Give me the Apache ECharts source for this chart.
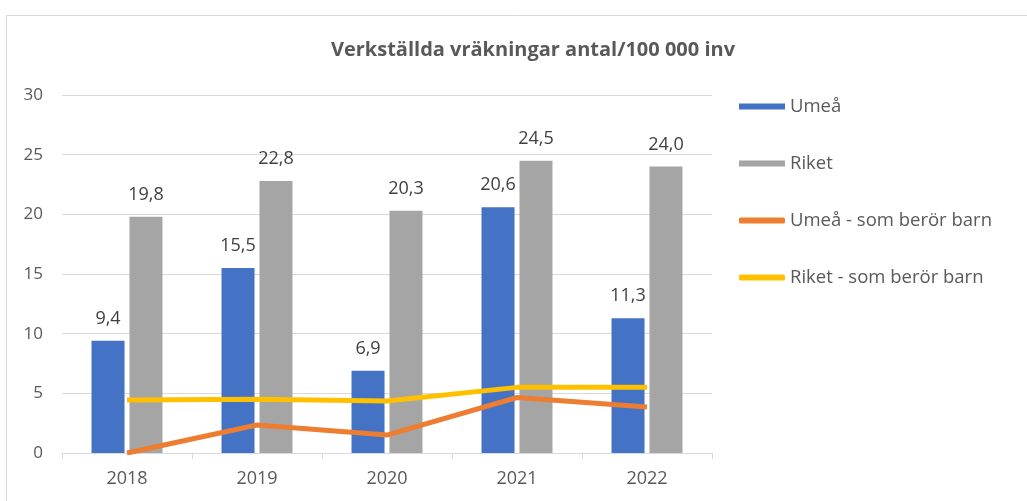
<!DOCTYPE html>
<html>
<head>
<meta charset="utf-8">
<script src="https://cdn.jsdelivr.net/npm/echarts@6/dist/echarts.min.js"></script>
<style>
html,body{margin:0;padding:0;background:#fff;}
#chart{width:1027px;height:501px;}
</style>
</head>
<body>
<div id="chart"></div>
<script>
// Evictions per 100 000 inhabitants, Umeå vs whole country
const years = ['2018', '2019', '2020', '2021', '2022'];
const umea = [9.4, 15.5, 6.9, 20.6, 11.3];
const riket = [19.8, 22.8, 20.3, 24.5, 24.0];
const umeaBarn = [0.0, 2.35, 1.5, 4.65, 3.85];
const riketBarn = [4.45, 4.5, 4.35, 5.5, 5.5];
const yTicks = [0, 5, 10, 15, 20, 25, 30];

const FONT = '"Open Sans", "Noto Sans", sans-serif';
const fmt = v => v.toFixed(1).replace('.', ',');

const chart = echarts.init(document.getElementById('chart'));
const barLabel = {
  show: true, position: 'top', distance: 13,
  color: '#404040', fontSize: 18, fontFamily: FONT,
  formatter: p => fmt(p.value)
};

chart.setOption({
  backgroundColor: '#fff',
  animation: false,
  graphic: [{
    type: 'rect', left: 4, top: 13,
    shape: { width: 1040, height: 500 },
    style: { fill: 'none', stroke: '#d9d9d9', lineWidth: 1 },
    silent: true
  }],
  title: {
    text: 'Verkställda vräkningar antal/100 000 inv',
    left: 528, top: 35, textAlign: 'center',
    textStyle: { fontFamily: FONT, fontSize: 20, fontWeight: 'bold', color: '#595959' }
  },
  legend: {
    orient: 'vertical', left: 734, top: 92,
    itemWidth: 46, itemHeight: 6, itemGap: 38,
    textStyle: { fontFamily: FONT, fontSize: 18.5, color: '#595959' },
    data: [
      { name: 'Umeå', icon: 'rect' },
      { name: 'Riket', icon: 'rect' },
      { name: 'Umeå - som berör barn', icon: 'roundRect' },
      { name: 'Riket - som berör barn', icon: 'roundRect' }
    ]
  },
  grid: { left: 62, right: 315, top: 95, bottom: 48, containLabel: false },
  xAxis: {
    type: 'category', data: years,
    axisLine: { lineStyle: { color: '#d9d9d9', width: 1 } },
    axisTick: { show: true, length: 6, lineStyle: { color: '#d9d9d9' } },
    axisLabel: { color: '#595959', fontSize: 18, fontFamily: FONT, margin: 17 }
  },
  yAxis: {
    type: 'value', min: yTicks[0], max: yTicks[yTicks.length - 1], interval: 5,
    axisLine: { show: false }, axisTick: { show: false },
    splitLine: { lineStyle: { color: '#d9d9d9', width: 1 } },
    axisLabel: { color: '#595959', fontSize: 17, fontFamily: FONT, margin: 19 }
  },
  series: [
    { name: 'Umeå', type: 'bar', data: umea, barWidth: 33, barGap: '15%',
      itemStyle: { color: '#4472C4' }, label: barLabel },
    { name: 'Riket', type: 'bar', data: riket, barWidth: 33,
      itemStyle: { color: '#A5A5A5' }, label: barLabel },
    { name: 'Umeå - som berör barn', type: 'line', data: umeaBarn,
      symbol: 'none', lineStyle: { color: '#ED7D31', width: 5 }, itemStyle: { color: '#ED7D31' } },
    { name: 'Riket - som berör barn', type: 'line', data: riketBarn,
      symbol: 'none', lineStyle: { color: '#FFC000', width: 5 }, itemStyle: { color: '#FFC000' } }
  ]
});
</script>
</body>
</html>
